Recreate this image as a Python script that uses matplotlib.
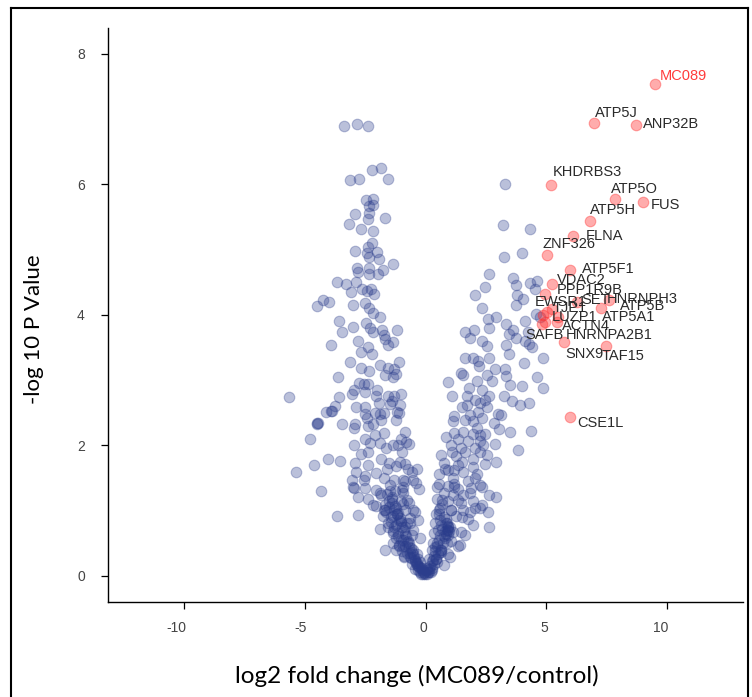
import numpy as np
import matplotlib
matplotlib.use("Agg")
import matplotlib.pyplot as plt
import matplotlib.transforms as mtransforms
from matplotlib.lines import Line2D

plt.rcParams['axes.unicode_minus'] = False

# proteins that are not significant (log2 fold change, -log10 p)
x_ns = [
    -3.36, -2.86, -2.37, -2.23, -1.83, -1.57, -3.12, -2.76, -2.47, -2.17, -2.33, -2.17,
    -2.92, -2.33, -1.67, -2.39, -3.16, -2.68, -2.17, -2.23, -2.37, -2.92, -2.43, -2.03,
    -2.33, -1.93, -1.33, -2.86, -2.33, -2.82, -2.33, -1.99, -1.77, -3.66, -3.28, -2.88,
    -2.64, -3.10, -2.43, -2.27, -2.13, -4.25, -4.51, -4.00, -3.02, -2.49, -2.33, -2.17,
    -1.89, -3.58, -3.02, -3.48, -2.47, -2.29, -2.19, -1.79, -1.17, -1.73, -1.67, -1.33,
    -3.92, -2.82, -2.37, -2.68, -2.23, -1.57, -3.12, -2.68, -2.33, -1.87, -1.57, -1.11,
    -1.29, -1.21, -1.33, -1.67, -3.62, -2.76, -2.37, -2.98, -2.53, -2.03, -2.07, -1.57,
    -1.03, -1.29, -5.65, -3.60, -3.06, -3.76, -3.92, -4.12, -2.90, -2.49, -1.93, -1.49,
    -1.39, -1.09, -1.73, -4.51, -4.49, -3.48, -2.92, -2.43, -2.09, -1.83, -1.21, -2.96,
    -2.37, -1.71, -0.84, -1.03, -0.82, -4.79, -2.53, -2.29, -1.89, -1.33, -2.96, -2.37,
    -2.68, -1.63, -1.13, -0.70, -4.06, -3.54, -4.61, -5.37, -2.92, -2.39, -1.83, -1.53,
    -1.21, -0.87, -0.34, -0.58, -2.88, -2.49, -2.07, -3.06, -1.73, -1.29, -0.84, -0.38,
    -2.98, -2.53, -4.33, -2.05, -1.49, -0.97, -0.28, -2.82, -2.37, -1.83, -1.39, -1.03,
    -0.70, -1.67, -2.07, -1.23, -0.84, -0.42, -3.66, -2.78, -1.77, -1.33, -1.03, -0.64,
    -0.30, -1.57, -1.23, -0.84, -0.50, -1.87, -1.67, -1.13, -0.74, -1.21, -0.93, -0.54,
    -0.34, -0.24, -0.14, -0.04, -0.30, -0.44, -0.64,
    -1.60, -1.40, -1.50, -1.30, -1.20, -1.45, -1.10, -1.30, -1.00, -0.90, -1.15, -0.80,
    -1.00, -0.70, -0.85, -0.60, -0.75, -0.50, -0.62, -0.45, -0.55, -0.35, -0.42, -0.30,
    -0.25, -0.18, -0.12, -0.08, -0.20, -0.33, -0.95, -1.70, -1.25, -0.65, -0.55, -1.55,
    -1.35, -1.10, -0.90,
    -2.99, -2.18, -1.88, -1.74, -1.19, -1.33, -0.92, -0.64, -0.36, -0.78, -0.50, -0.92,
    -1.47, -0.78, -0.92, -0.22,
    -3.88, -4.46, -2.57, -1.60, -2.09, -2.16, -1.88, -2.50, -2.57, -1.05, -1.19, -0.98,
    -1.05, -0.71, -0.92, -0.50,
    -1.52, -1.38, -1.62, -1.27, -1.44, -1.16, -1.35, -1.06, -1.22, -0.96, -1.12, -0.87,
    -0.98, -0.78, -0.88, -0.68, -0.58, -0.48, -0.38, -0.28, -0.16, -0.06,
    3.30, 3.20, 4.33, 3.24, 3.98, 2.64, 3.64, 3.74, 4.33, 4.63, 4.53, 2.45, 2.05, 3.80,
    4.04, 3.74, 2.35, 4.59, 2.58, 2.92, 4.14, 4.73, 3.34, 2.01, 2.64, 3.64, 1.65, 3.44,
    4.23, 3.74, 4.14, 2.35, 1.85, 3.34, 2.56, 4.29, 4.43, 3.48, 4.87, 1.65, 1.95, 2.19,
    2.64, 2.21, 3.28, 4.09, 1.49, 1.55, 2.86, 2.56, 3.34, 4.63, 2.15, 2.76, 0.93, 3.50,
    4.00, 4.85, 1.81, 2.35, 1.11, 1.71, 2.64, 3.24, 2.05, 3.58, 3.90, 4.29, 1.51, 2.56,
    2.19, 3.01, 1.17, 3.14, 1.65, 1.95, 2.35, 1.15, 2.84, 2.15, 3.03, 3.50, 4.39, 1.55,
    1.95, 2.45, 0.85, 1.35, 1.75, 2.25, 1.05, 1.45, 2.05, 2.90, 3.82, 1.65, 2.25, 0.66,
    1.25, 1.95, 2.54, 0.76, 1.35, 1.95, 2.45, 2.94, 0.95, 1.55, 2.15, 0.56, 1.15, 1.75,
    2.05, 0.56, 0.95, 1.35, 1.87, 0.76, 1.15, 1.55, 2.64, 2.94, 0.46, 0.95, 1.45, 1.95,
    2.35, 0.62, 1.05, 1.55, 2.05, 0.42, 0.85, 1.25, 1.75, 2.60, 0.66, 0.95, 1.15, 1.45,
    1.95, 2.64, 0.36, 0.76, 0.46, 1.05, 1.35, 0.26, 0.66, 0.95, 0.16, 0.46, 0.06, 0.26,
    0.76,
    0.05, 0.10, 0.15, 0.20, 0.28, 0.35, 0.22, 0.40, 0.48, 0.55, 0.62, 0.70, 0.80, 0.90,
    0.95, 0.85, 1.00, 0.75, 0.60, 0.50, 0.30, 0.45, 0.65, 0.90, 1.05, 0.70, 0.55, 0.40,
    0.47, 0.68, 0.54, 0.88, 0.95, 1.02, 0.40, 1.43, 1.64, 1.50, 1.85, 2.26, 2.33, 1.85,
    1.36, 1.16, 0.05, 0.33, 0.61,
    1.71, 2.26, 2.47, 1.85, 1.16, 2.26, 2.40, 1.09, 1.50, 0.81, 1.16, 1.16, 2.26,
    0.86, 0.93, 0.80, 0.98, 0.72, 0.64, 0.52, 0.43, 0.34, 0.25, 0.13,
]
y_ns = [
    6.89, 6.92, 6.89, 6.21, 6.25, 6.08, 6.06, 6.08, 5.76, 5.78, 5.67, 5.68,
    5.55, 5.56, 5.48, 5.46, 5.39, 5.32, 5.29, 5.10, 5.03, 4.97, 4.95, 4.96,
    4.88, 4.85, 4.77, 4.71, 4.71, 4.65, 4.62, 4.62, 4.69, 4.50, 4.47, 4.50,
    4.40, 4.35, 4.37, 4.40, 4.32, 4.23, 4.14, 4.20, 4.15, 4.18, 4.10, 4.02,
    3.96, 3.91, 3.81, 3.74, 3.87, 3.79, 3.74, 3.76, 3.77, 3.69, 3.62, 3.58,
    3.53, 3.59, 3.51, 3.43, 3.40, 3.53, 3.28, 3.19, 3.14, 3.23, 3.19, 3.27,
    3.17, 3.09, 3.04, 3.07, 3.04, 2.95, 2.94, 2.84, 2.82, 2.85, 2.75, 2.76,
    2.78, 2.76, 2.74, 2.74, 2.78, 2.60, 2.53, 2.51, 2.59, 2.59, 2.65, 2.63,
    2.67, 2.50, 2.50, 2.34, 2.32, 2.33, 2.33, 2.41, 2.49, 2.38, 2.38, 2.26,
    2.29, 2.19, 2.20, 2.10, 2.05, 2.10, 2.10, 2.04, 2.04, 2.00, 2.00, 1.90,
    1.86, 1.96, 2.00, 2.02, 1.79, 1.76, 1.69, 1.59, 1.73, 1.69, 1.79, 1.73,
    1.68, 1.71, 1.64, 1.59, 1.59, 1.53, 1.58, 1.47, 1.49, 1.47, 1.45, 1.42,
    1.34, 1.35, 1.30, 1.32, 1.30, 1.32, 1.33, 1.21, 1.18, 1.23, 1.18, 1.14,
    1.11, 1.09, 1.07, 1.04, 1.01, 0.98, 0.92, 0.93, 0.91, 0.91, 0.84, 0.89,
    0.85, 0.80, 0.77, 0.74, 0.70, 0.72, 0.40, 0.60, 0.53, 0.40, 0.46, 0.40,
    0.33, 0.21, 0.12, 0.03, 0.14, 0.24, 0.29,
    1.25, 1.20, 1.05, 1.00, 0.95, 0.90, 0.85, 0.75, 0.80, 0.70, 0.65, 0.60,
    0.55, 0.50, 0.45, 0.42, 0.35, 0.33, 0.27, 0.22, 0.18, 0.17, 0.10, 0.08,
    0.05, 0.03, 0.02, 0.06, 0.12, 0.25, 1.10, 1.00, 1.30, 0.80, 0.62, 0.75,
    0.50, 0.45, 0.30,
    1.36, 1.09, 1.26, 1.00, 0.95, 0.65, 0.54, 0.34, 0.19, 0.80, 1.00, 1.26,
    1.39, 1.16, 1.36, 0.57,
    2.53, 2.34, 1.46, 1.64, 2.15, 2.33, 2.48, 2.48, 2.94, 2.61, 2.51, 1.90,
    1.74, 1.64, 1.46, 1.46,
    1.15, 1.12, 0.98, 1.06, 0.82, 0.96, 0.68, 0.88, 0.58, 0.74, 0.47, 0.64,
    0.38, 0.52, 0.28, 0.44, 0.36, 0.28, 0.20, 0.13, 0.08, 0.04,
    6.01, 5.38, 5.32, 4.89, 4.95, 4.62, 4.56, 4.45, 4.49, 4.51, 4.39, 4.42, 4.30, 4.30,
    4.24, 4.15, 4.10, 4.01, 3.94, 3.96, 3.91, 3.96, 3.85, 3.77, 3.79, 3.77, 3.74, 3.71,
    3.74, 3.64, 3.60, 3.59, 3.64, 3.53, 3.52, 3.55, 3.50, 3.40, 3.34, 3.33, 3.33, 3.29,
    3.33, 3.21, 3.16, 3.26, 3.11, 3.07, 3.16, 3.07, 3.06, 3.04, 2.99, 2.99, 2.97, 2.92,
    2.90, 2.87, 2.87, 2.84, 2.76, 2.76, 2.76, 2.75, 2.69, 2.68, 2.61, 2.65, 2.58, 2.59,
    2.51, 2.48, 2.44, 2.46, 2.39, 2.37, 2.41, 2.37, 2.34, 2.27, 2.24, 2.20, 2.22, 2.20,
    2.17, 2.17, 2.12, 2.10, 2.07, 2.07, 2.00, 1.96, 1.96, 2.01, 1.93, 1.90, 1.90, 1.85,
    1.83, 1.79, 1.85, 1.73, 1.69, 1.67, 1.71, 1.74, 1.62, 1.59, 1.56, 1.56, 1.49, 1.45,
    1.49, 1.40, 1.37, 1.33, 1.34, 1.26, 1.23, 1.23, 1.23, 1.21, 1.18, 1.15, 1.11, 1.15,
    1.08, 1.04, 1.01, 1.01, 1.04, 0.94, 0.87, 0.91, 0.87, 0.98, 0.77, 0.74, 0.67, 0.67,
    0.77, 0.75, 0.65, 0.60, 0.50, 0.53, 0.46, 0.40, 0.36, 0.33, 0.26, 0.21, 0.12, 0.09,
    0.16,
    0.02, 0.06, 0.10, 0.15, 0.22, 0.30, 0.05, 0.38, 0.45, 0.55, 0.62, 0.72, 0.68, 0.70,
    0.62, 0.80, 0.75, 0.90, 0.85, 0.70, 0.50, 0.25, 0.40, 0.50, 1.00, 1.10, 1.00, 0.80,
    1.36, 1.16, 0.95, 0.80, 0.70, 0.29, 0.44, 0.47, 0.62, 0.90, 0.98, 1.03, 1.36, 1.26,
    1.16, 1.36, 0.08, 0.24, 0.36,
    2.61, 2.64, 2.69, 2.46, 2.18, 2.15, 2.00, 1.90, 1.74, 1.64, 1.62, 1.41, 1.39,
    0.64, 0.76, 0.58, 0.68, 0.50, 0.40, 0.33, 0.26, 0.18, 0.12, 0.05,
]

# significant proteins
genes = ['MC089', 'ATP5J', 'ANP32B', 'KHDRBS3', 'ATP5O', 'FUS', 'ATP5H', 'FLNA',
         'ZNF326', 'ATP5F1', 'VDAC2', 'PPP1R9B', 'EWSR1', 'SET', 'HNRNPH3', 'ATP5B',
         'TJP1', 'LUZP1', 'ATP5A1', 'ACTN4', 'SAFB', 'HNRNPA2B1', 'SNX9', 'TAF15', 'CSE1L']
x_sig = [9.50, 6.98, 8.71, 5.19, 7.85, 9.01, 6.82, 6.12, 5.03, 5.98, 5.23, 4.97, 5.03,
         6.27, 7.62, 7.26, 5.23, 4.89, 5.44, 4.96, 4.82, 5.51, 5.74, 7.47, 6.01]
y_sig = [7.54, 6.94, 6.91, 5.99, 5.77, 5.73, 5.44, 5.20, 4.92, 4.69, 4.47, 4.32, 4.04,
         4.19, 4.23, 4.10, 4.08, 3.99, 3.89, 3.89, 3.86, 3.96, 3.58, 3.52, 2.43]

# label placement (pixel offsets from the point, like ggrepel put them)
label_offsets = {
    'MC089': (5, 8), 'ATP5J': (1, 10), 'ANP32B': (7, 1), 'KHDRBS3': (2, 13),
    'ATP5O': (-4, 10), 'FUS': (8, -3.5), 'ATP5H': (0, 11), 'FLNA': (13, 0),
    'ZNF326': (-4, 11), 'ATP5F1': (12, 1), 'VDAC2': (5, 3.5), 'PPP1R9B': (11, 3.5),
    'EWSR1': (-12, 10), 'SET': (5, 2), 'HNRNPH3': (-2.5, 1), 'ATP5B': (19, 2),
    'TJP1': (1, 1), 'LUZP1': (8, -2), 'ATP5A1': (45, 5), 'ACTN4': (17, -4),
    'SAFB': (-16, -11.5), 'HNRNPA2B1': (7, -17.5), 'SNX9': (1, -12), 'TAF15': (-4, -10),
    'CSE1L': (7, -6),
}

fig = plt.figure(figsize=(7.52, 6.97), dpi=100)
ax = fig.add_axes([0.1441, 0.1367, 0.8445, 0.8237])

ax.scatter(x_ns, y_ns, s=58, color='#2b3d8c', alpha=0.32, edgecolors='#2b3d8c', linewidths=0.8)
ax.scatter(x_sig, y_sig, s=58, color='#ff3030', alpha=0.4, edgecolors='#ff3030', linewidths=0.8)

for g, xv, yv in zip(genes, x_sig, y_sig):
    dx, dy = label_offsets[g]
    ax.annotate(g, (xv, yv), xytext=(dx, dy), textcoords='offset pixels',
                ha='left', va='center', fontsize=10.5, family='Liberation Sans',
                color='#ff3b3b' if g == 'MC089' else '#2a2a2a')

ax.set_xlim(-13.15, 13.18)
ax.set_ylim(-0.40, 8.40)
ax.set_xticks([-10, -5, 0, 5, 10])
ax.set_yticks([0, 2, 4, 6, 8])
for s in ['top', 'right']:
    ax.spines[s].set_visible(False)
for s in ['left', 'bottom']:
    ax.spines[s].set_linewidth(1.0)
ax.tick_params(length=5, width=0.9, labelsize=10, labelcolor='#444444')
ax.tick_params(axis='x', pad=9)
ax.tick_params(axis='y', pad=12)
shift = mtransforms.ScaledTranslation(2 / 100, 0, fig.dpi_scale_trans)
for lab in ax.get_xticklabels():
    lab.set_family('Liberation Sans')
    lab.set_ha('right')
    lab.set_transform(lab.get_transform() + shift)
for lab in ax.get_yticklabels():
    lab.set_family('Liberation Sans')

ax.set_xlabel('log2 fold change (MC089/control)', fontsize=17.5, family='Lato', va='center')
ax.set_ylabel('-log 10 P Value', fontsize=16, family='Lato', va='center')
ax.xaxis.set_label_coords(0.486, -0.1287)
ax.yaxis.set_label_coords(-0.1178, 0.475)

# border of the screenshot
fig.add_artist(Line2D([0.0140, 0.0140], [0.0, 0.9885], transform=fig.transFigure, color='black', lw=1.5))
fig.add_artist(Line2D([0.0140, 0.9947], [0.9885, 0.9885], transform=fig.transFigure, color='black', lw=1.5))
fig.add_artist(Line2D([0.9947, 0.9947], [0.0, 0.9885], transform=fig.transFigure, color='black', lw=1.5))

fig.savefig('out.png', dpi=100)
